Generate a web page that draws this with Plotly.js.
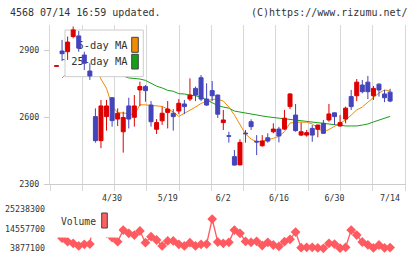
<!DOCTYPE html>
<html><head><meta charset="utf-8">
<script src="https://cdn.plot.ly/plotly-3.0.1.min.js"></script>
<style>html,body{margin:0;padding:0;background:#fff;} #chart{width:420px;height:259px;}</style>
</head><body><div id="chart"></div>
<script>
// ---- data ----
const tickIndex  = [10, 20, 30, 40, 50, 60];
const tickLabels = ['4/30', '5/19', '6/2', '6/16', '6/30', '7/14'];
const priceTicks = [2300, 2600, 2900];
const volTicks   = [3877100, 14557700, 25238300];

const open  = [2829,2898,2895,2963,2966,2880,2808,2603,2495,2603,2688,2592,2535,2651,2600,2723,2738,2655,2546,2584,2622,2618,2628,2660,2682,2730,2778,2682,2720,2700,2576,2517,2423,2386,2529,2580,2492,2472,2508,2535,2547,2547,2648,2610,2520,2520,2550,2546,2573,2588,2620,2561,2592,2693,2697,2745,2758,2697,2749,2705,2713];
const high  = [2833,2948,2963,3008,2988,2895,2843,2640,2678,2678,2690,2640,2625,2688,2700,2760,2745,2673,2592,2648,2673,2637,2682,2678,2775,2738,2790,2753,2763,2702,2633,2535,2453,2501,2543,2591,2520,2520,2528,2573,2557,2633,2708,2660,2576,2543,2565,2567,2588,2660,2622,2610,2648,2723,2772,2768,2786,2741,2753,2723,2728];
const low   = [2828,2853,2858,2955,2895,2813,2768,2486,2461,2540,2558,2561,2441,2550,2558,2651,2670,2558,2525,2566,2550,2540,2614,2614,2673,2673,2673,2651,2673,2597,2543,2486,2384,2384,2486,2543,2430,2468,2486,2528,2487,2543,2637,2535,2516,2513,2490,2510,2525,2580,2566,2558,2573,2633,2673,2708,2682,2678,2693,2668,2668];
const close = [2832,2886,2938,2993,2911,2843,2786,2495,2651,2651,2585,2618,2599,2592,2651,2738,2720,2580,2576,2618,2637,2603,2663,2648,2700,2700,2682,2655,2697,2614,2588,2515,2385,2487,2526,2558,2489,2493,2493,2547,2516,2596,2705,2540,2535,2531,2520,2565,2528,2615,2603,2576,2641,2648,2758,2715,2715,2730,2723,2688,2673];

const ma5  = [null,2777,2800,2850,2900,2905,2880,2830,2772,2730,2650,2621,2619,2617,2610,2656,2656,2653,2651,2649,2637,2624,2604,2617,2633,2646,2662,2673,2680,2682,2673,2646,2610,2568,2525,2502,2490,2493,2498,2505,2515,2535,2574,2578,2578,2578,2570,2550,2534,2545,2560,2572,2588,2610,2633,2646,2669,2689,2709,2723,2718];
const ma25 = [null,2861,2856,2851,2846,2840,2833,2822,2812,2803,2795,2790,2786,2777,2775,2772,2766,2754,2740,2732,2721,2717,2706,2705,2699,2697,2691,2678,2664,2653,2646,2641,2628,2623,2618,2614,2610,2606,2602,2599,2597,2592,2588,2586,2584,2580,2578,2573,2570,2568,2566,2561,2561,2561,2561,2565,2570,2579,2588,2597,2604];

const volume = [null,9400000,7460000,6600000,5130000,6050000,6210000,25238300,18000000,12000000,9700000,7460000,13800000,12000000,11100000,13300000,6920000,10200000,8390000,5130000,7850000,7850000,6050000,5130000,6920000,5130000,6050000,6210000,19800000,7300000,6600000,7140000,13800000,12000000,7600000,7140000,7700000,5400000,7140000,5670000,4900000,7460000,8770000,12700000,4200000,4420000,4420000,4100000,3877100,6600000,6210000,3950000,4420000,13800000,11100000,7300000,5800000,4100000,5670000,4100000,4300000];

// ---- geometry (pixels) ----
const L = 50, R = 405, T = 25, B = 249;
const priceTop = 25, priceBottom = 184, volTop = 209, volBottom = 248.3;
const x0px = 56.5, pxPerIdx = 5.56;
const xr = [(L - x0px) / pxPerIdx, (R - x0px) / pxPerIdx];
const gridStep = (R - L) / 11 / pxPerIdx;
const gridVals = Array.from({length: 12}, (_, k) => xr[0] + k * gridStep - (k === 11 ? 1e-6 : 0));
const fy = py => (B - py) / (B - T);
const fx = px => (px - L) / (R - L);
const ly = py => (priceBottom - py) / (priceBottom - priceTop);
const priceRange = [2300, 3015];

const FONT = 'DejaVu Sans Mono, monospace';
const TXT = '#333333';
const idx = close.map((_, i) => i);

const RED = '#dd0000', BLUE = '#4444bb', ORANGE = '#f08c00', GREEN = '#16a016', VOLC = '#ff5a5f';

const traces = [
  {type: 'scatter', mode: 'lines', x: idx, y: ma25, xaxis: 'x', yaxis: 'y',
   line: {color: GREEN, width: 1}, hoverinfo: 'skip'},
  {type: 'scatter', mode: 'lines', x: idx, y: ma5, xaxis: 'x', yaxis: 'y',
   line: {color: ORANGE, width: 1}, hoverinfo: 'skip'},
  // legend box (drawn above MA lines, below candles)
  {type: 'scatter', mode: 'lines', xaxis: 'x2', yaxis: 'y2',
   x: [fx(65), fx(143.3), fx(143.3), fx(65), fx(65)],
   y: [ly(76.7), ly(76.7), ly(30), ly(30), ly(76.7)],
   fill: 'toself', fillcolor: '#ffffff', line: {color: '#cccccc', width: 1}, hoverinfo: 'skip'},
  {type: 'scatter', mode: 'text', xaxis: 'x2', yaxis: 'y2',
   x: [fx(127.5), fx(127.5)], y: [ly(46.7), ly(62.3)],
   text: ['5-day MA', '25-day MA'], textposition: 'middle left',
   textfont: {family: FONT, size: 10.4, color: TXT}, hoverinfo: 'skip'},
  {type: 'candlestick', x: idx, open: open, high: high, low: low, close: close,
   xaxis: 'x3', yaxis: 'y3', whiskerwidth: 0,
   increasing: {line: {color: RED, width: 1}, fillcolor: RED},
   decreasing: {line: {color: BLUE, width: 1}, fillcolor: BLUE}, hoverinfo: 'skip'},
  {type: 'scatter', mode: 'lines+markers', x: idx, y: volume, xaxis: 'x4', yaxis: 'y4',
   line: {color: VOLC, width: 1.3}, marker: {symbol: 'diamond', size: 7.5, color: VOLC},
   cliponaxis: false, hoverinfo: 'skip'}
];

const layout = {
  width: 420, height: 259,
  margin: {l: L, r: 420 - R, t: T, b: 259 - B, pad: 0},
  paper_bgcolor: '#ffffff', plot_bgcolor: '#ffffff',
  showlegend: false,
  boxgap: 0.1, boxgroupgap: 0.2,
  xaxis: {domain: [0, 1], range: xr, anchor: 'y', tickmode: 'array', tickvals: gridVals,
          showticklabels: false, ticks: 'outside', ticklen: 6, tickcolor: '#d8d8d8', tickwidth: 1,
          showgrid: true, gridcolor: '#d8d8d8', gridwidth: 1, zeroline: false,
          showline: true, linecolor: '#cccccc', linewidth: 1, fixedrange: true},
  yaxis: {domain: [fy(priceBottom), fy(priceTop)], range: priceRange, anchor: 'x',
          tickmode: 'array', tickvals: priceTicks, ticks: 'outside', ticklen: 5, tickcolor: '#cccccc',
          showgrid: false, zeroline: false, showline: true, mirror: true, linecolor: '#d8d8d8', linewidth: 1,
          ticklabelstandoff: 3, tickfont: {family: FONT, size: 8.3, color: TXT}, fixedrange: true},
  xaxis2: {overlaying: 'x', range: [0, 1], visible: false, fixedrange: true},
  yaxis2: {overlaying: 'y', range: [0, 1], visible: false, fixedrange: true},
  xaxis3: {overlaying: 'x', range: xr, anchor: 'y3', tickmode: 'array', tickvals: tickIndex, ticktext: tickLabels,
           ticks: 'outside', ticklen: 6, tickcolor: 'rgba(0,0,0,0)', showgrid: false, zeroline: false,
           showline: false, rangeslider: {visible: false},
           tickfont: {family: FONT, size: 8.3, color: TXT}, fixedrange: true},
  yaxis3: {overlaying: 'y', range: priceRange, visible: false, fixedrange: true},
  xaxis4: {domain: [0, 1], range: xr, anchor: 'y4', visible: false, fixedrange: true},
  yaxis4: {domain: [fy(volBottom), fy(volTop)], range: [volTicks[0], volTicks[2]], anchor: 'x4',
           tickmode: 'array', tickvals: volTicks, ticktext: volTicks.map(String),
           ticks: '', showgrid: false, zeroline: false, showline: false, ticklabelstandoff: 4,
           tickfont: {family: FONT, size: 8.3, color: TXT}, fixedrange: true},
  shapes: [
    {type: 'rect', xref: 'paper', yref: 'paper', layer: 'above',
     x0: fx(53), x1: fx(119), y0: fy(237.5), y1: fy(203),
     fillcolor: '#ffffff', line: {width: 0}},
    {type: 'rect', xref: 'paper', yref: 'paper', layer: 'above',
     x0: fx(101.7), x1: fx(107.3), y0: fy(228), y1: fy(213),
     fillcolor: '#ff6063', line: {color: '#444444', width: 1}},
    {type: 'rect', xref: 'paper', yref: 'paper', layer: 'above',
     x0: fx(131.7), x1: fx(138.3), y0: fy(52.3), y1: fy(37.3),
     fillcolor: ORANGE, line: {color: '#444444', width: 1}},
    {type: 'rect', xref: 'paper', yref: 'paper', layer: 'above',
     x0: fx(131.7), x1: fx(138.3), y0: fy(69), y1: fy(54.3),
     fillcolor: GREEN, line: {color: '#444444', width: 1}}
  ],
  annotations: [
    {xref: 'paper', yref: 'paper', x: fx(8), y: fy(12.5), xanchor: 'left', yanchor: 'middle',
     text: '4568 07/14 16:59 updated.', showarrow: false, font: {family: FONT, size: 10, color: TXT}},
    {xref: 'paper', yref: 'paper', x: fx(410), y: fy(12.5), xanchor: 'right', yanchor: 'middle',
     text: '(C)https://www.rizumu.net/', showarrow: false, font: {family: FONT, size: 10, color: TXT}},
    {xref: 'paper', yref: 'paper', x: fx(59), y: fy(221.7), xanchor: 'left', yanchor: 'middle',
     text: 'Volume', showarrow: false, font: {family: FONT, size: 9.7, color: TXT}}
  ]
};

Plotly.newPlot('chart', traces, layout, {staticPlot: true, displayModeBar: false});
</script>
</body></html>
